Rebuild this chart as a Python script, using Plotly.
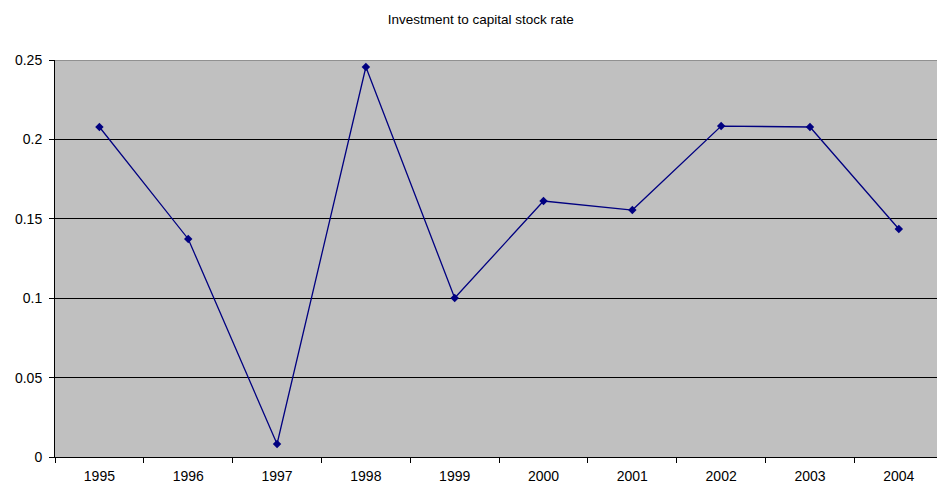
import plotly.graph_objects as go

years = ["1995", "1996", "1997", "1998", "1999", "2000", "2001", "2002", "2003", "2004"]
rates = [0.2078, 0.1373, 0.0082, 0.2456, 0.1001, 0.1612, 0.1555, 0.2084, 0.2078, 0.1436]
title = "Investment to capital stock rate"

fig = go.Figure()
fig.add_trace(go.Scatter(
    x=years, y=rates, mode="lines+markers",
    line=dict(color="#000080", width=1.3),
    marker=dict(symbol="diamond", size=6.5, color="#000080"),
    showlegend=False,
))

fig.update_layout(
    width=937, height=492,
    margin=dict(l=55, r=0, t=60, b=35, autoexpand=False),
    paper_bgcolor="white",
    plot_bgcolor="#C0C0C0",
    font=dict(family="Liberation Sans, Arial, sans-serif", size=14, color="black"),
    title=dict(text=title, x=0.513, xanchor="center", y=1 - 19 / 492, yanchor="middle",
               font=dict(size=13.5, color="black")),
)
fig.update_xaxes(
    type="category", range=[-0.5, 9.43],
    showgrid=False, showline=True, linecolor="black", linewidth=1,
    ticks="outside", tickson="boundaries", ticklen=5, tickcolor="black",
    ticklabelstandoff=6,
    zeroline=False, automargin=False,
)
fig.update_yaxes(
    range=[0, 0.25], dtick=0.05, tick0=0,
    showgrid=True, gridcolor="black", gridwidth=1,
    showline=True, linecolor="black", linewidth=1,
    ticks="outside", ticklen=5, tickcolor="black",
    ticklabelstandoff=4,
    zeroline=False, automargin=False,
)
fig.add_shape(type="line", xref="paper", yref="y", x0=0, x1=1, y0=0.25, y1=0.25,
              line=dict(color="#808080", width=1.5))

fig.write_html(
    "out.html",
    config={"displayModeBar": False},
    post_script=(
        "document.documentElement.style.margin='0';"
        "document.body.style.margin='0';"
        "document.documentElement.style.overflow='hidden';"
        "document.body.style.overflow='hidden';"
    ),
)
